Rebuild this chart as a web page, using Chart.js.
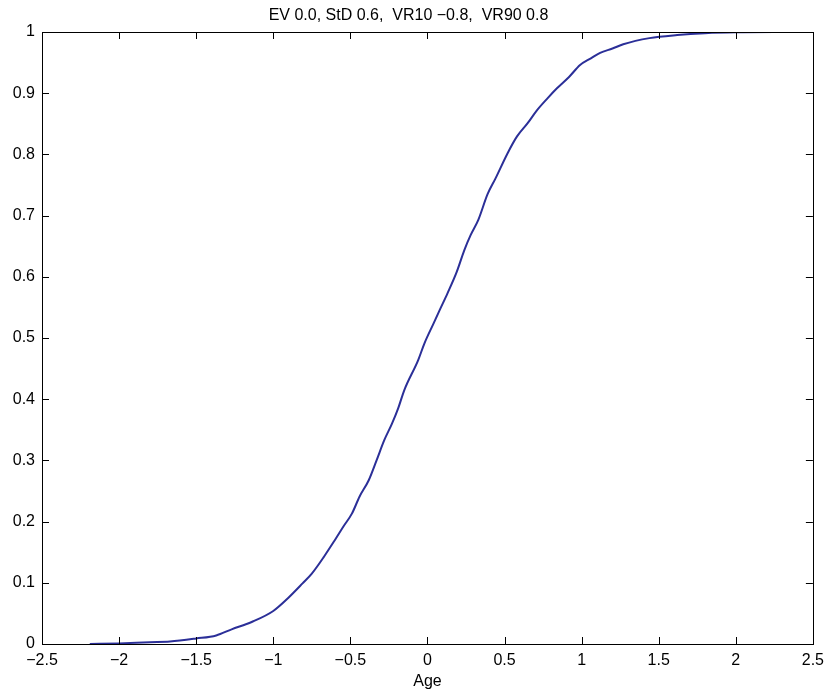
<!DOCTYPE html>
<html>
<head>
<meta charset="utf-8">
<script src="https://cdn.jsdelivr.net/npm/chart.js@4"></script>
<style>
  html, body { margin: 0; padding: 0; background: #fff; }
  #wrap { width: 831px; height: 691px; }
</style>
</head>
<body>
<div id="wrap"><canvas id="cdf"></canvas></div>
<script>
// empirical cumulative distribution over age
const ageX = [-2.19, -2.0, -1.8, -1.67, -1.5, -1.37, -1.27, -1.14, -1.0, -0.9,
              -0.81, -0.75, -0.67, -0.6, -0.545, -0.49, -0.44, -0.38, -0.33, -0.28,
              -0.23, -0.19, -0.15, -0.06, -0.02, 0.04, 0.08, 0.13, 0.19, 0.24,
              0.28, 0.33, 0.39, 0.44, 0.52, 0.58, 0.65, 0.71, 0.78, 0.84,
              0.92, 0.99, 1.06, 1.12, 1.2, 1.27, 1.44, 1.62, 1.8, 2.0, 2.36];
const cumProb = [0, 0.001, 0.003, 0.004, 0.009, 0.014, 0.024, 0.036, 0.054, 0.076,
                 0.099, 0.115, 0.143, 0.17, 0.192, 0.213, 0.241, 0.268, 0.30, 0.333,
                 0.36, 0.385, 0.415, 0.464, 0.491, 0.524, 0.546, 0.573, 0.608, 0.644,
                 0.668, 0.693, 0.735, 0.76, 0.802, 0.829, 0.851, 0.872, 0.892, 0.908,
                 0.927, 0.946, 0.957, 0.966, 0.973, 0.98, 0.99, 0.995, 0.998, 0.9995, 1.0];
const xTicks = [-2.5, -2, -1.5, -1, -0.5, 0, 0.5, 1, 1.5, 2, 2.5];
const yTicks = [0, 0.1, 0.2, 0.3, 0.4, 0.5, 0.6, 0.7, 0.8, 0.9, 1];
const titleText = 'EV 0.0, StD 0.6,  VR10 \u22120.8,  VR90 0.8';
const xTitle = 'Age';

const FONT = { family: "'Liberation Sans', Arial, sans-serif", size: 16 };
const TICK_LEN = 7;

// matlab style minus sign
const fmt = (v) => (v < 0 ? '\u2212' + String(-v) : String(v));

// box around the plot area, ticks pointing inward on all four sides
const axesBox = {
    id: 'axesBox',
    afterDatasetsDraw(chart) {
        const { ctx, chartArea: a, scales } = chart;
        ctx.save();
        ctx.strokeStyle = '#000';
        ctx.lineWidth = 1;
        ctx.beginPath();
        scales.x.ticks.forEach((t) => {
            const px = Math.round(scales.x.getPixelForValue(t.value)) + 0.5;
            ctx.moveTo(px, a.bottom); ctx.lineTo(px, a.bottom - TICK_LEN);
            ctx.moveTo(px, a.top); ctx.lineTo(px, a.top + TICK_LEN);
        });
        scales.y.ticks.forEach((t) => {
            const py = Math.round(scales.y.getPixelForValue(t.value)) + 0.5;
            ctx.moveTo(a.left, py); ctx.lineTo(a.left + TICK_LEN, py);
            ctx.moveTo(a.right, py); ctx.lineTo(a.right - TICK_LEN, py);
        });
        ctx.stroke();
        ctx.strokeRect(Math.round(a.left) + 0.5, Math.round(a.top) + 0.5,
                       Math.round(a.right - a.left), Math.round(a.bottom - a.top));
        ctx.restore();
    }
};

new Chart(document.getElementById('cdf'), {
    type: 'scatter',
    data: {
        datasets: [{
            data: ageX.map((x, i) => ({ x, y: cumProb[i] })),
            showLine: true,
            borderColor: '#2b2f98',
            borderWidth: 2,
            pointRadius: 0,
            cubicInterpolationMode: 'monotone'
        }]
    },
    options: {
        responsive: true,
        maintainAspectRatio: false,
        animation: false,
        layout: { padding: { left: 0, right: 14, top: 0, bottom: 0 } },
        scales: {
            x: {
                type: 'linear', min: -2.5, max: 2.5,
                afterBuildTicks: (s) => { s.ticks = xTicks.map((value) => ({ value })); },
                afterFit: (s) => { s.height = 47; },
                grid: { display: false, drawTicks: false },
                border: { display: false },
                ticks: { color: '#000', font: FONT, padding: 7, maxRotation: 0, autoSkip: false,
                         callback: (v) => fmt(v) },
                title: { display: true, text: xTitle, color: '#000', font: FONT,
                         padding: { top: 0, bottom: 0 } }
            },
            y: {
                type: 'linear', min: 0, max: 1,
                afterBuildTicks: (s) => { s.ticks = yTicks.map((value) => ({ value })); },
                afterFit: (s) => { s.width = 42; },
                grid: { display: false, drawTicks: false },
                border: { display: false },
                ticks: { color: '#000', font: FONT, padding: 7, autoSkip: false,
                         callback: (v) => fmt(v) }
            }
        },
        plugins: {
            legend: { display: false },
            tooltip: { enabled: false },
            title: {
                display: true, text: titleText, color: '#000',
                font: { ...FONT, weight: 'normal' },
                padding: { top: 6, bottom: 6.8 }
            }
        }
    },
    plugins: [axesBox]
});
</script>
</body>
</html>
